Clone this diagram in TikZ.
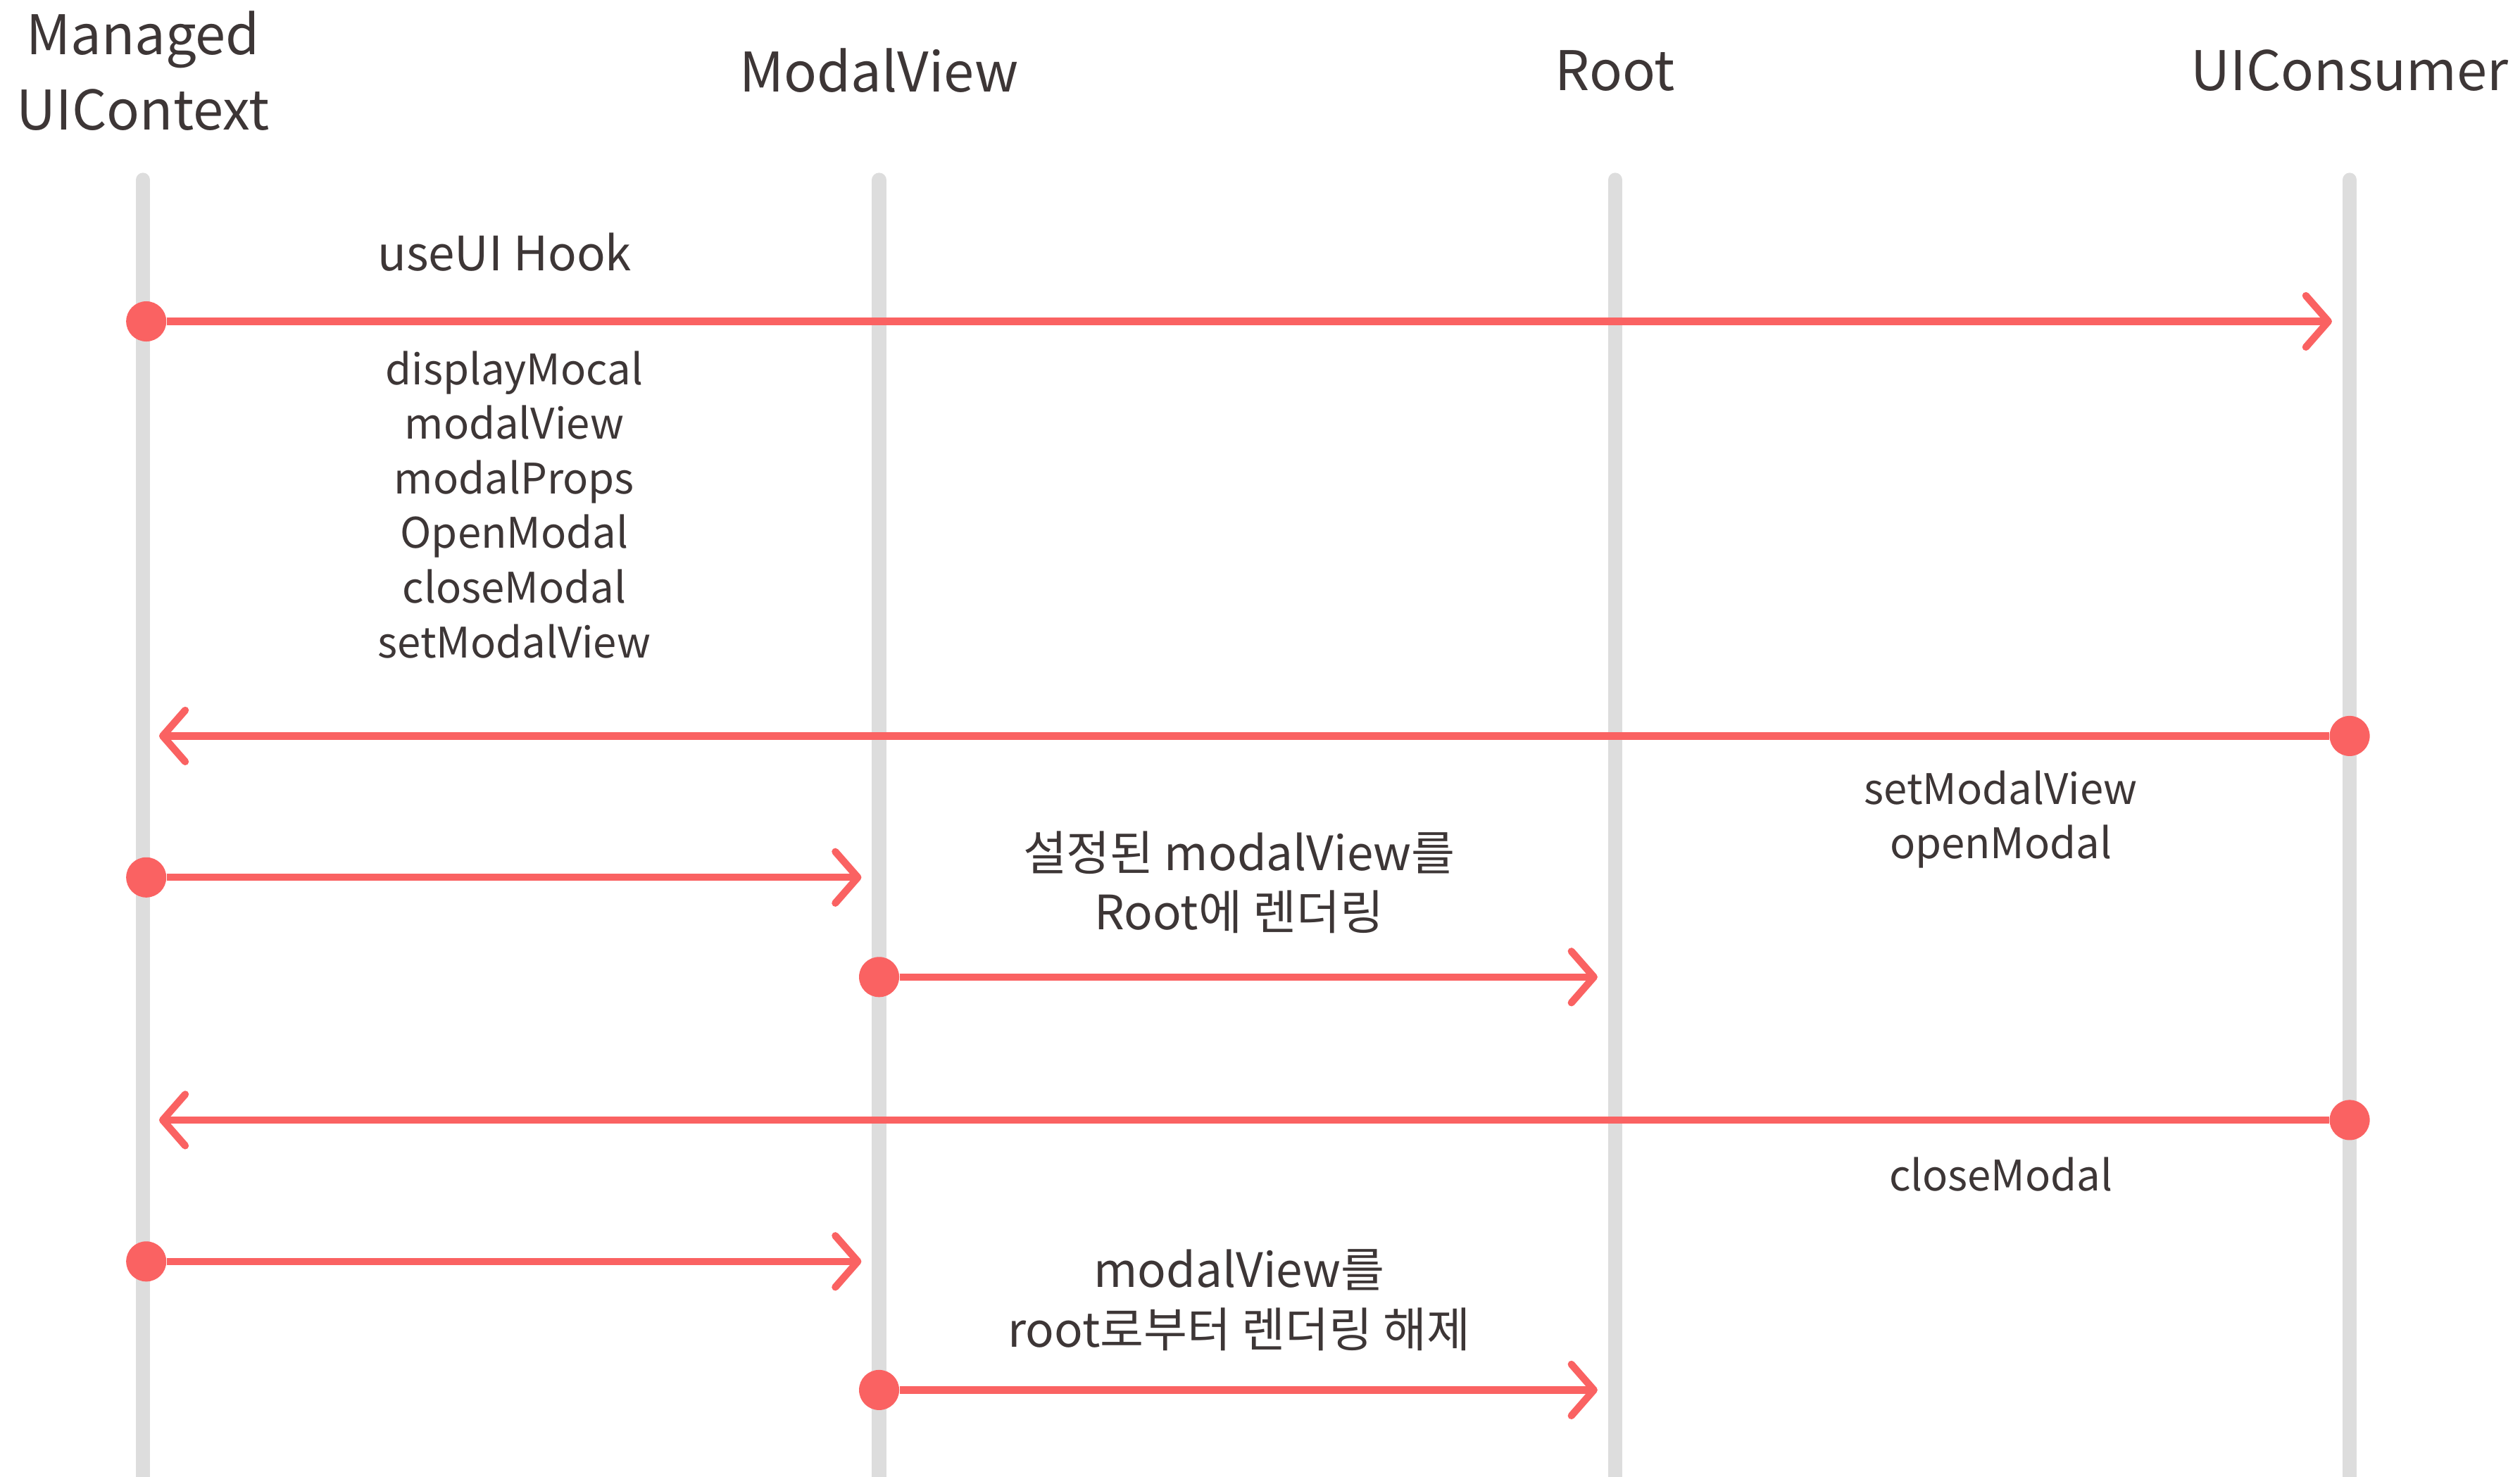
\documentclass[tikz,border=0pt]{standalone}
\usepackage{fontspec}
\setmainfont{Noto Sans CJK KR}
\usetikzlibrary{arrows.meta}
\definecolor{msgred}{HTML}{FA6262}
\definecolor{lifegray}{HTML}{DDDDDD}
\definecolor{txtdark}{HTML}{3D3636}
\tikzset{
	life/.style={draw=lifegray, line width=9pt, line cap=round},
	msg/.style={draw=msgred, line width=4.5pt, -{Straight Barb[length=14pt,width=32pt,round]}},
	dot/.style={circle, fill=msgred, inner sep=0pt, minimum size=25pt},
	head/.style={text=txtdark, align=center, font=\fontsize{34}{47}\selectfont},
	lbl/.style={text=txtdark, align=center, font=\fontsize{29.5}{37}\selectfont},
	sublbl/.style={text=txtdark, align=center, font=\fontsize{26.2}{34}\selectfont},
}
\begin{document}
\begin{tikzpicture}[x=1pt, y=-1pt]
	\useasboundingbox (0,0) rectangle (1568,919);
	\node[head] (hctx)  at (89,44)   {Managed\\UIContext};
	\node[head] (hmod)  at (547,44)  {ModalView};
	\node[head] (hroot) at (1005,44) {Root};
	\node[head] (hcons) at (1462,44) {UIConsumer};
	\draw[life] (89,112)   -- (89,930);
	\draw[life] (547,112)  -- (547,930);
	\draw[life] (1005,112) -- (1005,930);
	\draw[life] (1462,112) -- (1462,930);
	%dots
	\node[dot] (d1) at (91,200)   {};
	\node[dot] (d2) at (1462,458) {};
	\node[dot] (d3) at (91,546)   {};
	\node[dot] (d4) at (547,608)  {};
	\node[dot] (d5) at (1462,697) {};
	\node[dot] (d6) at (91,785)   {};
	\node[dot] (d7) at (547,865)  {};
	\coordinate (e1) at (1451,200);
	\coordinate (e2) at (99,458);
	\coordinate (e3) at (536,546);
	\coordinate (e4) at (994,608);
	\coordinate (e5) at (99,697);
	\coordinate (e6) at (536,785);
	\coordinate (e7) at (994,865);
	\foreach \i in {1,...,7} \draw[msg] (d\i) -- (e\i);
	%labels
	\node[lbl]    (l1) at (314,157)  {useUI Hook};
	\node[sublbl] (l2) at (320,314)  {displayMocal\\modalView\\modalProps\\OpenModal\\closeModal\\setModalView};
	\node[sublbl] (l3) at (1245,510) {setModalView\\openModal};
	\node[lbl]    (l4) at (771,549)  {설정된 modalView를\\Root에 렌더링};
	\node[sublbl] (l5) at (1245,731) {closeModal};
	\node[lbl]    (l6) at (771,809)  {modalView를\\root로부터 렌더링 해제};
\end{tikzpicture}
\end{document}
